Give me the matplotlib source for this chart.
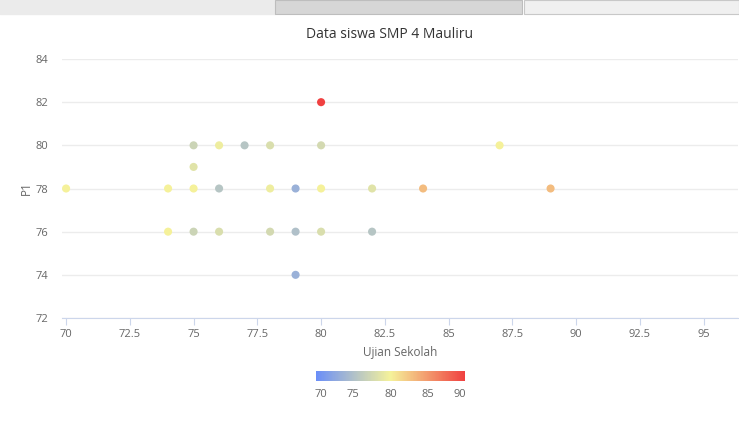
import matplotlib.pyplot as plt
import matplotlib.colors as mcolors
import matplotlib.transforms as mtransforms
from matplotlib.patches import Rectangle

plt.rcParams['font.family'] = ['Liberation Sans Narrow', 'Open Sans', 'DejaVu Sans']

# Ujian Sekolah (x), P1 (y), nilai warna (colour axis)
ujian = [80, 75, 76, 77, 78, 80, 87, 75,
         70, 74, 75, 76, 78, 79, 80, 82, 84, 89,
         74, 75, 76, 78, 79, 80, 82, 79]
p1 = [82, 80, 80, 80, 80, 80, 80, 79,
      78, 78, 78, 78, 78, 78, 78, 78, 78, 78,
      76, 76, 76, 76, 76, 76, 76, 74]
nilai = [90, 77, 79.5, 75.5, 78, 77.5, 80, 78.5,
         80, 80, 80, 75.5, 79.5, 73.5, 80, 78.5, 83, 83,
         80, 77, 78, 77.5, 75, 78, 75.5, 73.5]

x_ticks = [70, 72.5, 75, 77.5, 80, 82.5, 85, 87.5, 90, 92.5, 95]
y_ticks = [72, 74, 76, 78, 80, 82, 84]
cbar_ticks = [70, 75, 80, 85, 90]

cmap = mcolors.LinearSegmentedColormap.from_list(
    'sekolah', [(0, '#6a8ef8'), (0.5, '#f5f29a'), (1, '#f04040')])
norm = mcolors.Normalize(70, 90)

fig = plt.figure(figsize=(7.39, 4.21), dpi=100)

# page tabs at the top of the screenshot
fig.patches.append(Rectangle((0, 1 - 14 / 421), 275 / 739, 14 / 421,
                             transform=fig.transFigure, color='#ebebeb'))
fig.patches.append(Rectangle((275 / 739, 1 - 14 / 421), 247 / 739, 14 / 421,
                             transform=fig.transFigure, facecolor='#d6d6d6',
                             edgecolor='#bdbdbd', lw=0.8))
fig.patches.append(Rectangle((524 / 739, 1 - 14 / 421), 215 / 739, 14 / 421,
                             transform=fig.transFigure, facecolor='#f0f0f0',
                             edgecolor='#c8c8c8', lw=0.8))

ax = fig.add_axes([62 / 739, 1 - 318 / 421, 676 / 739, 259 / 421])
ax.scatter(ujian, p1, c=nilai, cmap=cmap, norm=norm, s=34, linewidths=0, zorder=3)

ax.set_xlim(69.84, 96.35)
ax.set_ylim(72, 84)
ax.set_xticks(x_ticks)
ax.set_xticklabels([f'{t:g}' for t in x_ticks])
ax.set_yticks(y_ticks)
ax.grid(axis='y', color='#ececec', lw=1)
ax.set_axisbelow(True)
for s in ['top', 'right', 'left']:
    ax.spines[s].set_visible(False)
ax.spines['bottom'].set_color('#ccd6eb')
ax.tick_params(axis='x', colors='#ccd6eb', labelcolor='#666666', length=5,
               labelsize=8, pad=3)
ax.tick_params(axis='y', length=0, labelcolor='#666666', labelsize=8, pad=10)

ax.set_xlabel('Ujian Sekolah', color='#666666', fontsize=8.5, labelpad=4)
ax.set_ylabel('P1', color='#666666', fontsize=8.5, labelpad=2)
fig.text(390 / 739, 1 - 34 / 421, 'Data siswa SMP 4 Mauliru', ha='center',
         va='center', fontsize=10, color='#333333')

cax = fig.add_axes([316 / 739, 1 - 381 / 421, 149 / 739, 10 / 421])
cb = fig.colorbar(plt.cm.ScalarMappable(norm=norm, cmap=cmap), cax=cax,
                  orientation='horizontal', ticks=cbar_ticks)
cb.outline.set_visible(False)
cax.tick_params(length=0, labelcolor='#666666', labelsize=8, pad=6)
# labels sit slightly inside the bar ends, as in the original legend
offsets = [5, 0, 0, 0, -5]
for lbl, dx in zip(cax.get_xticklabels(), offsets):
    lbl.set_transform(lbl.get_transform() +
                      mtransforms.ScaledTranslation(dx / 100, 0, fig.dpi_scale_trans))

fig.savefig('out.png', dpi=100)
